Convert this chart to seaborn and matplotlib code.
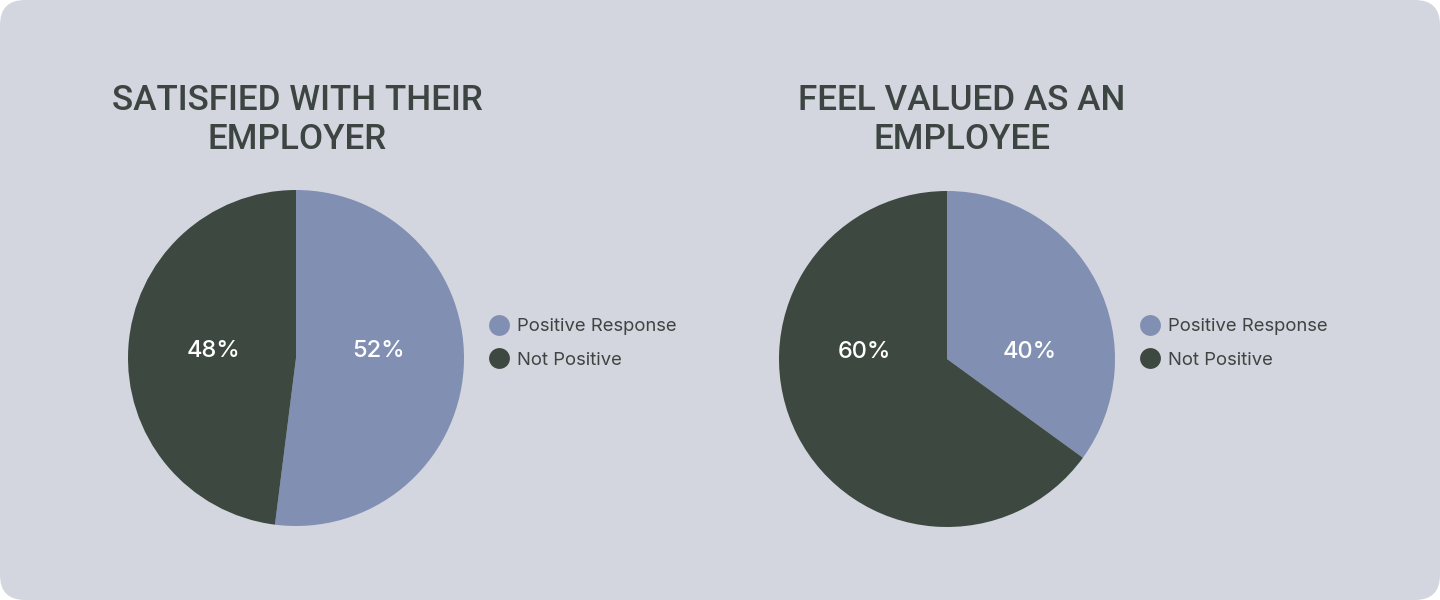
import matplotlib
matplotlib.use("Agg")
import matplotlib.pyplot as plt
import seaborn as sns
from matplotlib.patches import FancyBboxPatch
from matplotlib.lines import Line2D

# data
categories = ["Positive Response", "Not Positive"]
titles = ["SATISFIED WITH THEIR\nEMPLOYER", "FEEL VALUED AS AN\nEMPLOYEE"]
satisfied_share = [52, 48]
valued_share = [35, 65]          # wedge size as drawn in the source
satisfied_labels = ["52%", "48%"]
valued_labels = ["40%", "60%"]   # printed labels in the source

sns.set_theme(style="white")
plt.rcParams["font.family"] = ["Inter", "DejaVu Sans"]

bg = "#d3d6df"
ink = "#3d4542"
colors = ["#818fb3", "#3d4840"]

fig = plt.figure(figsize=(14.4, 6), dpi=100)
fig.patch.set_facecolor("white")
card = FancyBboxPatch((0, 0), 14.4, 6, boxstyle="round,pad=0,rounding_size=0.25",
                      transform=fig.dpi_scale_trans, facecolor=bg, edgecolor="none", zorder=0)
fig.add_artist(card)

panels = [
    (satisfied_share, satisfied_labels, titles[0], [128, 74], [297, 120]),
    (valued_share, valued_labels, titles[1], [779, 73], [962, 120]),
]

for shares, labels, title, (px, py), (tx, ty) in panels:
    ax = fig.add_axes([px / 1440, py / 600, 336 / 1440, 336 / 600])
    ax.pie(shares, colors=colors, startangle=90, counterclock=False,
           wedgeprops=dict(linewidth=0))
    ax.set_xlim(-1, 1)
    ax.set_ylim(-1, 1)
    ax.set_aspect("equal")
    ax.axis("off")
    ax.text(0.49, 0.04, labels[0], color="white", fontsize=17, fontweight="medium",
            ha="center", va="center")
    ax.text(-0.49, 0.04, labels[1], color="white", fontsize=17, fontweight="medium",
            ha="center", va="center")

    fig.text(tx / 1440, 1 - ty / 600, title, color=ink, fontsize=25.3, fontweight="medium",
             family=["Roboto", "DejaVu Sans"], ha="center", va="center",
             multialignment="center", linespacing=1.25)

    handles = [Line2D([], [], marker="o", linestyle="none", markersize=15,
                      markerfacecolor=c, markeredgecolor="none") for c in colors]
    ax.legend(handles, categories, loc="center left",
              bbox_to_anchor=((px + 361) / 1440, 1 - 343.5 / 600),
              bbox_transform=fig.transFigure, frameon=False, fontsize=13.3,
              labelcolor=ink, handlelength=1.05, handletextpad=0.45,
              labelspacing=0.88, borderpad=0, borderaxespad=0)

fig.savefig("out.png", dpi=100, facecolor=fig.get_facecolor())
